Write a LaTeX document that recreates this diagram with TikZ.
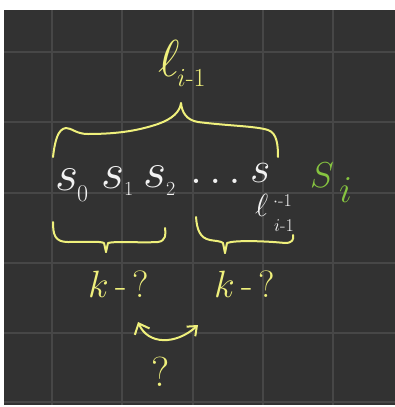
\RequirePackage{fix-cm}
\documentclass[tikz,border=0pt]{standalone}
\usepackage{amsmath}
\usetikzlibrary{arrows.meta}
\definecolor{bg}{HTML}{323232}
\definecolor{gridc}{HTML}{474747}
\definecolor{yel}{HTML}{EFF07C}
\definecolor{wht}{HTML}{F2F2F2}
\definecolor{grn}{HTML}{86C440}
\tikzset{
  pen/.style={line width=2pt, line cap=round, line join=round},
  brace/.style={pen, draw=yel},
  wtext/.style={text=wht, inner sep=0pt, anchor=base west},
  ytext/.style={text=yel, inner sep=0pt, anchor=base west},
  gtext/.style={text=grn, inner sep=0pt, anchor=base west},
}
\begin{document}
\begin{tikzpicture}[x=1pt,y=-1pt]
\useasboundingbox (0,0) rectangle (395,407);
\fill[white] (0,0) rectangle (395,407);
\fill[bg] (4,10) rectangle (395,405);
\begin{scope}[draw=gridc, line width=1.8pt]
\foreach \g in {52,122,193,263,333} {
  \draw (\g,10) -- (\g,405);
}
\foreach \g in {52,122,193,263,333,402} {
  \draw (4,\g) -- (395,\g);
}
\end{scope}
% top label
\node[ytext] (ltop) at (158,76) {\fontsize{52}{52}\selectfont$\ell$};
\node[ytext] (ltopsub) at (177,86) {\fontsize{26}{26}\selectfont$i$-$1$};
% top brace
\coordinate (tb) at (181,103);
\draw[brace] (53,157) .. controls (55,140) and (58,129) .. (66,128)
  .. controls (72,128) and (76,134) .. (88,134)
  .. controls (120,134) and (140,130) .. (158,124)
  .. controls (172,119) and (180,112) .. (tb)
  .. controls (182,112) and (186,120) .. (198,122)
  .. controls (230,126) and (255,126) .. (268,130)
  .. controls (277,133) and (278,145) .. (278,157);
% row
\node[wtext] (s0) at (55,190) {\fontsize{50}{50}\selectfont$s$};
\node[wtext] (s0sub) at (77,201) {\fontsize{24}{24}\selectfont$0$};
\node[wtext] (s1) at (101,188) {\fontsize{50}{50}\selectfont$s$};
\node[wtext] (s1sub) at (124,195) {\fontsize{20}{20}\selectfont$1$};
\node[wtext] (s2) at (143,187) {\fontsize{50}{50}\selectfont$s$};
\node[wtext] (s2sub) at (166,195) {\fontsize{20}{20}\selectfont$2$};
\node[wtext] (dots) at (190,183) {\fontsize{44}{44}\selectfont$\dots$};
\node[wtext] (sl) at (250,182) {\fontsize{44}{44}\selectfont$s$};
\node[wtext] (slsub) at (255,216) {\fontsize{32}{32}\selectfont$\ell$};
\node[wtext] (slsup) at (273,206) {\fontsize{18}{18}\selectfont$\cdot$-$1$};
\node[wtext] (slsubsub) at (274,231) {\fontsize{18}{18}\selectfont$i$-$1$};
% green S_i
\node[gtext] (Si) at (310,187) {\fontsize{36}{36}\selectfont$S$};
\node[gtext] (Sisub) at (339,202) {\fontsize{38}{38}\selectfont$i$};
% lower braces
\coordinate (lb) at (106,252);
\draw[brace] (53,222) .. controls (53,235) and (55,242) .. (68,242)
  .. controls (85,242) and (100,241) .. (104,243) -- (lb);
\draw[brace] (lb) -- (108,243) .. controls (115,241) and (140,243) .. (158,242)
  .. controls (166,241) and (166,234) .. (165,228);
\coordinate (rb) at (225,253);
\draw[brace] (196,217) .. controls (197,230) and (200,238) .. (210,240)
  .. controls (215,241) and (221,241) .. (223,243) -- (rb);
\draw[brace] (rb) -- (227,243) .. controls (235,240) and (265,241) .. (285,243)
  .. controls (292,243) and (294,240) .. (293,235);
% k-? labels
\node[ytext] (kl) at (88,297) {\fontsize{38}{38}\selectfont$k$\,-\,?};
\node[ytext] (kr) at (214,297) {\fontsize{38}{38}\selectfont$k$\,-\,?};
% double arrow
\coordinate (al) at (138,322);
\coordinate (ar) at (198,325);
\draw[brace, {Straight Barb[length=9pt,width=16pt,line width=2pt]}-{Straight Barb[length=8pt,width=13pt,line width=2pt]}]
  (al) .. controls (148,345) and (176,345) .. (ar);
% question
\node[ytext] (q) at (151,386) {\fontsize{42}{42}\selectfont ?};
\end{tikzpicture}
\end{document}
